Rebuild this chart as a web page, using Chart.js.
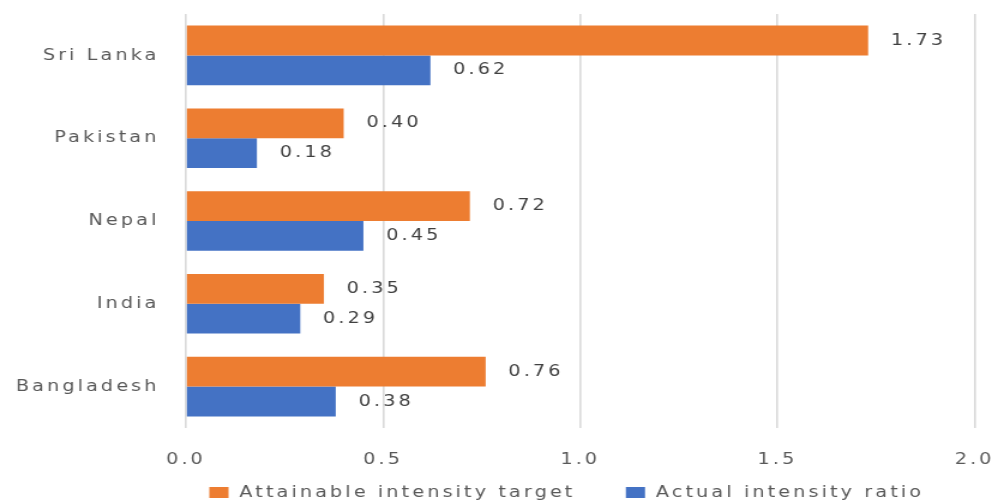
<!DOCTYPE html>
<html>
<head>
<meta charset="utf-8">
<script src="https://cdn.jsdelivr.net/npm/chart.js@4/dist/chart.umd.min.js"></script>
<style>
  html, body { margin: 0; padding: 0; background: #fff; }
  #wrap { width: 998px; height: 504px; }
</style>
</head>
<body>
<!-- drawn at 832px wide and stretched to 998px, the text in the original is wide like this -->
<div id="wrap"><canvas id="chart" width="832" height="504" style="width:998px;height:504px"></canvas></div>
<script>
// chart data
const countries = ['Sri Lanka', 'Pakistan', 'Nepal', 'India', 'Bangladesh'];
const attainableTarget = [1.73, 0.40, 0.72, 0.35, 0.76];
const actualRatio = [0.62, 0.18, 0.45, 0.29, 0.38];
const xTicks = [0, 0.5, 1.0, 1.5, 2.0];

const FONT = 'DejaVu Sans';
const SPACING = '2.6px';

const spacingPlugin = {
    id: 'spacing',
    beforeUpdate(chart) { chart.ctx.letterSpacing = SPACING; },
    beforeDraw(chart) { chart.ctx.letterSpacing = SPACING; }
};

// value labels to the right of each bar
const valueLabels = {
    id: 'valueLabels',
    afterDatasetsDraw(chart) {
        const ctx = chart.ctx;
        ctx.save();
        ctx.font = '16px "' + FONT + '"';
        ctx.fillStyle = '#404040';
        ctx.textAlign = 'left';
        ctx.textBaseline = 'middle';
        chart.data.datasets.forEach((ds, i) => {
            chart.getDatasetMeta(i).data.forEach((bar, j) => {
                ctx.fillText(ds.data[j].toFixed(2), bar.x + 19, bar.y);
            });
        });
        ctx.restore();
    }
};

// legend drawn below the axis
const bottomLegend = {
    id: 'bottomLegend',
    afterDraw(chart) {
        const ctx = chart.ctx;
        ctx.save();
        ctx.font = '16px "' + FONT + '"';
        ctx.textBaseline = 'middle';
        ctx.textAlign = 'left';
        const items = chart.data.datasets.map(ds => ({
            text: ds.label, color: ds.backgroundColor,
            w: 16 + 9 + ctx.measureText(ds.label).width
        }));
        const gap = 42;
        const total = items.reduce((s, it) => s + it.w, 0) + gap * (items.length - 1);
        let x = 472.5 - total / 2;
        const y = 493;
        items.forEach(it => {
            ctx.fillStyle = it.color;
            ctx.fillRect(x, y - 6, 16, 11);
            ctx.fillStyle = '#595959';
            ctx.fillText(it.text, x + 25, y);
            x += it.w + gap;
        });
        ctx.restore();
    }
};

function noPad(scale) {
    scale.paddingTop = 0;
    scale.paddingBottom = 0;
    scale.paddingLeft = 0;
    scale.paddingRight = 0;
}

const ctx = document.getElementById('chart').getContext('2d');
new Chart(ctx, {
    type: 'bar',
    data: {
        labels: countries,
        datasets: [
            {
                label: 'Attainable intensity target',
                data: attainableTarget,
                backgroundColor: '#ED7D31',
                categoryPercentage: 0.72,
                barPercentage: 1.0
            },
            {
                label: 'Actual intensity ratio',
                data: actualRatio,
                backgroundColor: '#4472C4',
                categoryPercentage: 0.72,
                barPercentage: 1.0
            }
        ]
    },
    options: {
        indexAxis: 'y',
        responsive: false,
        animation: false,
        devicePixelRatio: 1,
        layout: { padding: { top: 14, right: 19.5, bottom: 26, left: 0 } },
        plugins: {
            legend: { display: false },
            tooltip: { enabled: false }
        },
        scales: {
            x: {
                min: 0,
                max: 2,
                afterBuildTicks(scale) { scale.ticks = xTicks.map(v => ({ value: v })); },
                afterFit(scale) { scale.height = 50; noPad(scale); },
                grid: { color: '#d9d9d9', lineWidth: 1.6, drawTicks: false },
                border: { display: false },
                ticks: {
                    padding: 22,
                    color: '#595959',
                    font: { family: FONT, size: 16 },
                    callback: v => v.toFixed(1)
                }
            },
            y: {
                afterFit(scale) { scale.width = 155; noPad(scale); },
                grid: { display: false, drawTicks: false },
                border: { display: false },
                ticks: {
                    padding: 22,
                    color: '#595959',
                    font: { family: FONT, size: 16 }
                }
            }
        }
    },
    plugins: [spacingPlugin, valueLabels, bottomLegend]
});
</script>
</body>
</html>
